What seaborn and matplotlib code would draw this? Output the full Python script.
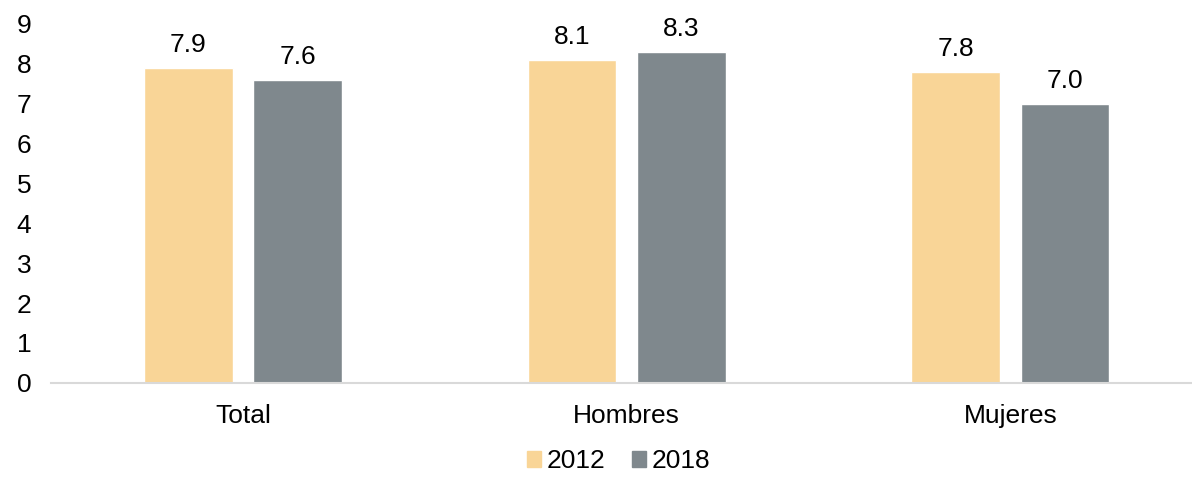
import pandas as pd
import matplotlib
matplotlib.use('Agg')
import matplotlib.pyplot as plt
import seaborn as sns

# Données
categorias = ['Total', 'Hombres', 'Mujeres']
anios = ['2012', '2018']
valores_2012 = [7.9, 8.1, 7.8]
valores_2018 = [7.6, 8.3, 7.0]

df = pd.DataFrame({
    'categoria': categorias * 2,
    'anio': [anios[0]] * 3 + [anios[1]] * 3,
    'valor': valores_2012 + valores_2018,
})

sns.set_style('white')
plt.rcParams['font.family'] = ['Liberation Sans', 'DejaVu Sans']
plt.rcParams['text.color'] = 'black'
plt.rcParams['xtick.color'] = 'black'
plt.rcParams['ytick.color'] = 'black'

colores = {'2012': '#F9D597', '2018': '#7F888D'}

fig = plt.figure(figsize=(11.92, 4.78), dpi=100)
ax = fig.add_axes([0.043, 0.199, 0.9655, 0.751])

sns.barplot(data=df, x='categoria', y='valor', hue='anio', palette=colores,
            saturation=1, width=0.57, gap=0.19, ax=ax, legend=False)

for cont in ax.containers:
    ax.bar_label(cont, fmt='%.1f', padding=8, fontsize=19)

ax.set_ylim(0, 9)
ax.set_xlim(-0.5, 2.5)
ax.set_yticks(range(0, 10))
ax.tick_params(axis='both', labelsize=19, length=0)
ax.tick_params(axis='x', pad=15)
ax.tick_params(axis='y', pad=25)
for lab in ax.get_yticklabels():
    lab.set_horizontalalignment('left')
ax.set_xlabel('')
ax.set_ylabel('')
for s in ['top', 'right', 'left']:
    ax.spines[s].set_visible(False)
ax.spines['bottom'].set_color('#D9D9D9')
ax.spines['bottom'].set_linewidth(1.5)

handles = [plt.Rectangle((0, 0), 1, 1, color=colores[a]) for a in anios]
fig.legend(handles, anios, loc='lower center', ncol=2, frameon=False,
           fontsize=19, bbox_to_anchor=(0.519, -0.04), handlelength=0.55,
           handleheight=0.6, handletextpad=0.2, columnspacing=1.0)

fig.savefig('out.png', dpi=100)
